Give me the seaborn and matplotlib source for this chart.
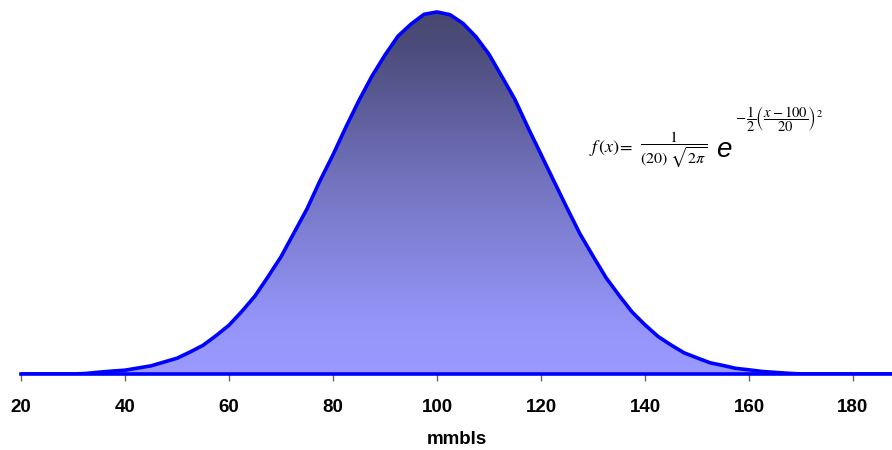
import numpy as np
import pandas as pd
import matplotlib
matplotlib.use("Agg")
import matplotlib.pyplot as plt
from matplotlib.colors import LinearSegmentedColormap
import seaborn as sns

# values (density, units of 1e-3), step 2.5 mmbls
mmbls = [20, 22.5, 25, 27.5, 30, 32.5, 35, 37.5, 40, 42.5, 45, 47.5, 50, 52.5,
         55, 57.5, 60, 62.5, 65, 67.5, 70, 72.5, 75, 77.5, 80, 82.5, 85, 87.5,
         90, 92.5, 95, 97.5, 100, 102.5, 105, 107.5, 110, 112.5, 115, 117.5,
         120, 122.5, 125, 127.5, 130, 132.5, 135, 137.5, 140, 142.5, 145, 147.5,
         150, 152.5, 155, 157.5, 160, 162.5, 165, 167.5, 170, 172.5, 175, 177.5,
         180, 182.5, 185, 187.5]
density = [0, 0, 0, 0, 0, 0.03, 0.10, 0.16, 0.21, 0.33, 0.45, 0.66, 0.87, 1.21,
           1.58, 2.11, 2.69, 3.46, 4.30, 5.36, 6.46, 7.78, 9.10, 10.65, 12.08,
           13.62, 15.08, 16.42, 17.58, 18.62, 19.28, 19.82, 19.95, 19.80, 19.32,
           18.58, 17.62, 16.38, 15.12, 13.58, 12.10, 10.62, 9.15, 7.72, 6.50,
           5.31, 4.34, 3.42, 2.71, 2.07, 1.60, 1.17, 0.89, 0.62, 0.47, 0.31,
           0.23, 0.14, 0.09, 0.04, 0, 0, 0, 0, 0, 0, 0, 0]
xticks = [20, 40, 60, 80, 100, 120, 140, 160, 180]

df = pd.DataFrame({"mmbls": mmbls, "density": density})

sns.set_style("white")
plt.rcParams["font.family"] = ["Liberation Sans", "DejaVu Sans"]
plt.rcParams["mathtext.fontset"] = "stix"

W, H = 892, 450
fig = plt.figure(figsize=(W / 100, H / 100), dpi=100)
ax = fig.add_axes([21 / W, 76 / H, 871 / W, 374 / H])

ymax = max(density) / 0.968
ax.set_xlim(20, 187.5)
ax.set_ylim(0, ymax)

# gradient fill clipped to the area under the curve
area = ax.fill_between(df["mmbls"], df["density"], 0, color="none", lw=0)
grad = LinearSegmentedColormap.from_list(
    "g", [(0.0, (153/255, 153/255, 1.0)),
          (0.15, (148/255, 148/255, 248/255)),
          (0.5, (118/255, 118/255, 196/255)),
          (0.9, (76/255, 76/255, 124/255)),
          (1.0, (72/255, 72/255, 112/255))])
img = ax.imshow(np.linspace(0, 1, 256).reshape(-1, 1), cmap=grad, aspect="auto",
                origin="lower", extent=[20, 187.5, 0, max(density)], zorder=1)
img.set_clip_path(area.get_paths()[0], transform=ax.transData)

sns.lineplot(data=df, x="mmbls", y="density", ax=ax, color="#0000ff", lw=2.6,
             zorder=3, solid_joinstyle="round")
ax.set_xlim(20, 187.5)
ax.set_ylim(0, ymax)

for s in ["top", "right", "left"]:
    ax.spines[s].set_visible(False)
ax.spines["bottom"].set_color("#0000ff")
ax.spines["bottom"].set_linewidth(2.6)
ax.spines["bottom"].set_zorder(4)
ax.set_yticks([])
ax.set_xticks(xticks)
ax.tick_params(axis="x", bottom=True, direction="out", length=5, width=1,
               color="#666666", pad=13, labelsize=13.5, labelcolor="black")
for lab in ax.get_xticklabels():
    lab.set_fontweight("bold")
ax.set_xlabel("mmbls", fontsize=13.5, fontweight="bold", color="black",
              labelpad=11)
ax.set_ylabel("")

# formula, in pieces placed in pixel coordinates
def fx(px):
    return px / W

def fy(py):
    return 1 - py / H

fig.text(fx(589), fy(148), r"$f\,(x)\!=$", ha="left", va="center",
         fontsize=13, color="black")
fig.text(fx(640), fy(150), r"$\dfrac{1}{(20)\ \sqrt{2\pi}}$",
         ha="left", va="center", fontsize=11.5, color="black")
fig.text(fx(716), fy(157), "e", ha="left", va="baseline", fontsize=20,
         style="italic", color="black")
fig.text(fx(735), fy(119),
         r"$-\,\dfrac{1}{2}\left(\dfrac{x-100}{20}\right)^{2}$",
         ha="left", va="center", fontsize=10.5, color="black")

fig.savefig("out.png", dpi=100)
